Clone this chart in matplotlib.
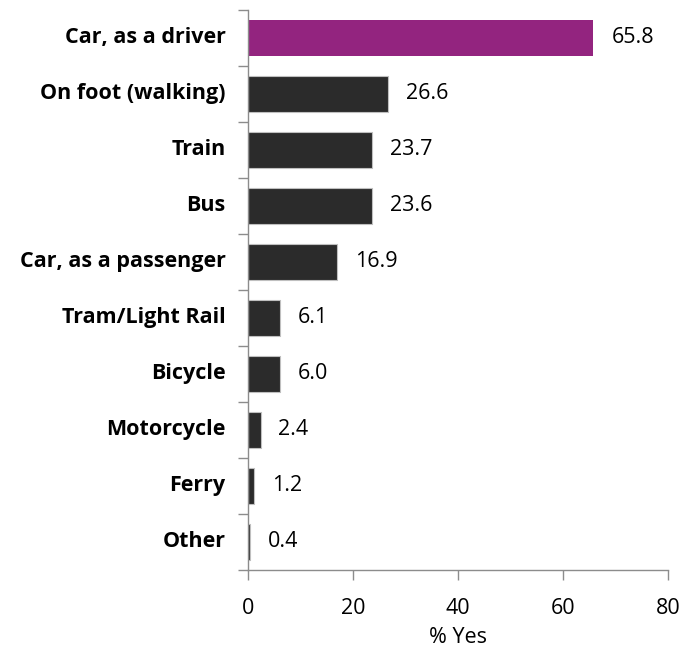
import matplotlib.pyplot as plt

# ============================================================
# DATA
# ============================================================

MODES = [
    "Car, as a driver",
    "On foot (walking)",
    "Train",
    "Bus",
    "Car, as a passenger",
    "Tram/Light Rail",
    "Bicycle",
    "Motorcycle",
    "Ferry",
    "Other",
]

PCT_YES = [65.8, 26.6, 23.7, 23.6, 16.9, 6.1, 6.0, 2.4, 1.2, 0.4]

HIGHLIGHT = "#93247F"
DARK = "#2B2B2B"
AXIS_GREY = "#8C8C8C"

plt.rcParams["font.family"] = ["Open Sans", "DejaVu Sans"]

# ============================================================
# FIGURE
# ============================================================

fig = plt.figure(figsize=(6.84, 6.48), dpi=100)
ax = fig.add_axes([0.3626, 0.1204, 0.6140, 0.8642])

positions = list(range(len(MODES)))
colors = [HIGHLIGHT] + [DARK] * (len(MODES) - 1)

bars = ax.barh(
    positions,
    PCT_YES,
    height=0.63,
    color=colors,
    edgecolor=["none"] + ["#BFBFBF"] * (len(MODES) - 1),
    linewidth=0.8,
)

ax.set_ylim(len(MODES) - 0.5, -0.5)
ax.set_xlim(0, 80)
ax.set_xticks([0, 20, 40, 60, 80])

# category labels as text, ticks between categories
ax.set_yticks([p + 0.5 for p in [-1] + positions])
ax.set_yticklabels([])
for p, name in zip(positions, MODES):
    ax.text(-4.3, p, name, ha="right", va="center",
            fontsize=15.5, fontweight="bold", color="black")

# value labels
for bar, v in zip(bars, PCT_YES):
    ax.text(v + 3.4, bar.get_y() + bar.get_height() / 2, f"{v:.1f}",
            ha="left", va="center", fontsize=15.5, color="black")

for side in ["top", "right"]:
    ax.spines[side].set_visible(False)
for side in ["left", "bottom"]:
    ax.spines[side].set_color(AXIS_GREY)
    ax.spines[side].set_linewidth(1.0)

ax.tick_params(axis="y", length=7, color=AXIS_GREY, width=1.0)
ax.tick_params(axis="x", length=7, color=AXIS_GREY, width=1.0,
               labelsize=15.5, pad=13)

ax.set_xlabel("% Yes", fontsize=15.5, labelpad=6)

fig.savefig("out.png", dpi=100)
plt.close(fig)
